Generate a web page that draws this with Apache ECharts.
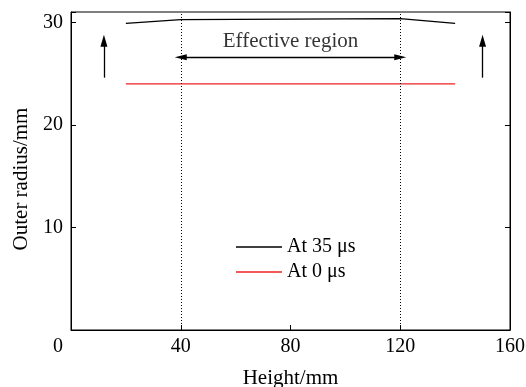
<!DOCTYPE html>
<html>
<head>
<meta charset="utf-8">
<script src="https://cdn.jsdelivr.net/npm/echarts@6/dist/echarts.min.js"></script>
<style>
  html, body { margin: 0; padding: 0; background: #fff; }
  #chart { width: 526px; height: 387px; }
</style>
</head>
<body>
<div id="chart"></div>
<script>
// data
var heightAt35 = [20, 40, 80, 120, 140];
var radiusAt35 = [29.9, 30.25, 30.3, 30.35, 29.9];
var heightAt0 = [20, 140];
var radiusAt0 = [24, 24];
var regionBounds = [40, 120];   // dotted lines / effective region
var regionArrowY = 26.6;
var regionLabelY = 28.1;
var upArrowsX = [12, 150];
var upArrowFrom = 24.6;
var upArrowTo = 28.2;
var xTicks = [0, 40, 80, 120, 160];
var yTicks = [10, 20, 30];
var yMax = 31;

var font = 'Liberation Serif';

function pairs(xs, ys) {
  return xs.map(function (x, i) { return [x, ys[i]]; });
}

var chart = echarts.init(document.getElementById('chart'));

var option = {
  animation: false,
  textStyle: { fontFamily: font, color: '#000' },
  grid: {
    left: 71, right: 16, top: 12, bottom: 57,
    outerBoundsMode: 'none', containLabel: false,
    show: true, borderColor: '#000', borderWidth: 1
  },
  legend: {
    orient: 'vertical',
    left: 231,
    top: 232,
    icon: 'rect',
    itemWidth: 46,
    itemHeight: 1.5,
    itemGap: 5,
    textStyle: { fontFamily: font, fontSize: 20, color: '#000' },
    data: ['At 35 μs', 'At 0 μs']
  },
  xAxis: [{
    type: 'value',
    min: 0,
    max: 160,
    interval: 40,
    name: 'Height/mm',
    nameLocation: 'middle',
    nameGap: 38,
    nameTextStyle: { fontFamily: font, fontSize: 21, color: '#000' },
    axisLine: { lineStyle: { color: '#000' } },
    axisTick: { inside: true, length: 5, lineStyle: { color: '#000' } },
    splitLine: { show: false },
    axisLabel: {
      fontFamily: font, fontSize: 20, color: '#000', margin: 7,
      formatter: function (v) { return v === 0 ? '{z|0}' : String(v); },
      rich: { z: { fontFamily: font, fontSize: 20, color: '#000', padding: [0, 26, 0, 0] } }
    }
  }],
  yAxis: [{
    type: 'value',
    min: 0,
    max: yMax,
    interval: 10,
    name: 'Outer radius/mm',
    nameLocation: 'middle',
    nameGap: 30,
    nameTextStyle: { fontFamily: font, fontSize: 21, color: '#000', padding: [0, 0, 0, -16] },
    axisLine: { lineStyle: { color: '#000' } },
    axisTick: { inside: true, length: 5, lineStyle: { color: '#000' } },
    splitLine: { show: false },
    axisLabel: {
      fontFamily: font, fontSize: 20, color: '#000', margin: 8,
      formatter: function (v) { return yTicks.indexOf(v) >= 0 ? String(v) : ''; }
    }
  }, {
    type: 'value',
    position: 'right',
    min: 0,
    max: yMax,
    interval: 10,
    axisLine: { show: true, lineStyle: { color: '#000' } },
    axisTick: { inside: true, length: 5, lineStyle: { color: '#000' } },
    axisLabel: { show: false },
    splitLine: { show: false }
  }],
  series: [
    {
      name: 'At 35 μs',
      type: 'line',
      data: pairs(heightAt35, radiusAt35),
      symbol: 'none',
      lineStyle: { color: '#000', width: 1.2 },
      itemStyle: { color: '#000' },
      markLine: {
        silent: true,
        symbol: ['none', 'triangle'],
        symbolSize: [7, 12],
        label: { show: false },
        lineStyle: { color: '#000', width: 1.3, type: 'solid' },
        data: upArrowsX.map(function (x) {
          return [{ coord: [x, upArrowFrom] }, { coord: [x, upArrowTo] }];
        })
      }
    },
    {
      name: 'At 0 μs',
      type: 'line',
      data: pairs(heightAt0, radiusAt0),
      symbol: 'none',
      lineStyle: { color: '#ee2222', width: 1.2 },
      itemStyle: { color: '#ee2222' },
      markLine: {
        silent: true,
        symbol: ['none', 'none'],
        label: { show: false },
        lineStyle: { color: '#000', width: 1, type: [1, 2] },
        data: regionBounds.map(function (x) {
          return [{ coord: [x, 0] }, { coord: [x, yMax] }];
        })
      }
    },
    {
      name: 'region',
      type: 'line',
      data: [],
      markLine: {
        silent: true,
        symbol: ['triangle', 'triangle'],
        symbolSize: [6, 12],
        label: { show: false },
        lineStyle: { color: '#000', width: 1.3, type: 'solid' },
        data: [[{ coord: [regionBounds[0], regionArrowY] }, { coord: [regionBounds[1], regionArrowY] }]]
      }
    },
    {
      name: 'regionLabel',
      type: 'scatter',
      symbolSize: 0,
      data: [[(regionBounds[0] + regionBounds[1]) / 2, regionLabelY]],
      label: {
        show: true,
        position: 'inside',
        formatter: 'Effective region',
        fontFamily: font,
        fontSize: 21,
        color: '#000'
      }
    }
  ]
};

chart.setOption(option);
</script>
</body>
</html>
